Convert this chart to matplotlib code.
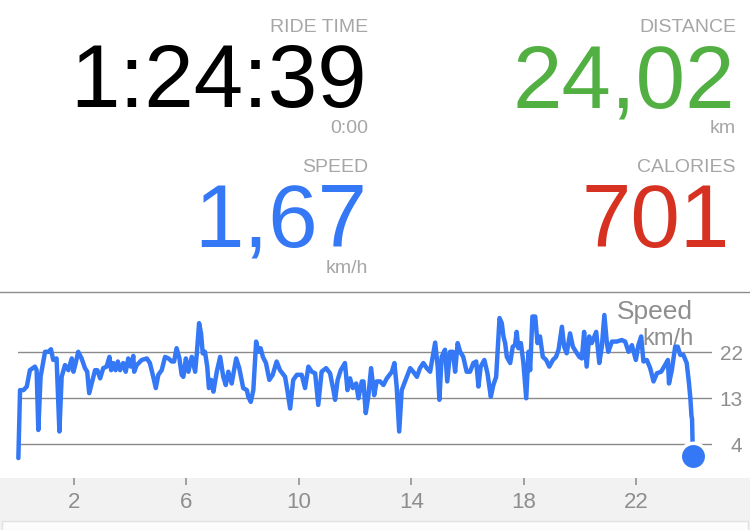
import matplotlib
matplotlib.use("Agg")
import matplotlib.pyplot as plt
from matplotlib.patches import Rectangle
from matplotlib.lines import Line2D

plt.rcParams['font.family'] = ['Liberation Sans', 'DejaVu Sans']

# speed trace: distance (km) vs speed (km/h)
dist_km = [0.02, 0.08, 0.20, 0.32, 0.43, 0.61, 0.67, 0.73, 0.81, 0.97, 1.09, 1.18, 1.26, 1.38,
           1.48, 1.56, 1.68, 1.80, 1.92, 1.98, 2.06, 2.15, 2.27, 2.39, 2.47, 2.54, 2.63, 2.75,
           2.83, 2.93, 3.04, 3.16, 3.26, 3.32, 3.40, 3.48, 3.56, 3.64, 3.75, 3.84, 3.93, 4.02,
           4.11, 4.14, 4.23, 4.41, 4.59, 4.70, 4.82, 4.91, 5.00, 5.12, 5.24, 5.36, 5.48, 5.56,
           5.65, 5.75, 5.83, 5.89, 5.98, 6.07, 6.19, 6.31, 6.37, 6.45, 6.52, 6.58, 6.66, 6.74,
           6.80, 6.88, 6.96, 7.08, 7.20, 7.31, 7.40, 7.49, 7.61, 7.77, 7.88, 8.02, 8.15, 8.20,
           8.29, 8.38, 8.48, 8.56, 8.64, 8.72, 8.83, 8.95, 9.07, 9.21, 9.33, 9.51, 9.59, 9.69,
           9.80, 9.93, 10.10, 10.22, 10.34, 10.46, 10.58, 10.69, 10.81, 10.97, 11.11, 11.23,
           11.29, 11.38, 11.49, 11.64, 11.73, 11.82, 11.92, 12.04, 12.12, 12.24, 12.30, 12.38,
           12.47, 12.57, 12.68, 12.77, 12.89, 13.01, 13.13, 13.31, 13.40, 13.48, 13.57, 13.66,
           13.78, 13.96, 14.07, 14.20, 14.31, 14.43, 14.55, 14.67, 14.76, 14.85, 14.94, 15.00,
           15.08, 15.20, 15.28, 15.38, 15.48, 15.56, 15.65, 15.74, 15.85, 15.97, 16.09, 16.21,
           16.31, 16.39, 16.47, 16.60, 16.71, 16.83, 16.92, 17.02, 17.14, 17.22, 17.28, 17.34,
           17.40, 17.52, 17.61, 17.69, 17.75, 17.81, 17.90, 17.99, 18.09, 18.17, 18.23, 18.31,
           18.41, 18.49, 18.58, 18.68, 18.80, 18.91, 19.04, 19.15, 19.24, 19.36, 19.44, 19.53,
           19.65, 19.75, 19.86, 19.98, 20.07, 20.15, 20.24, 20.33, 20.42, 20.58, 20.69, 20.78,
           20.87, 20.96, 21.01, 21.14, 21.31, 21.49, 21.61, 21.73, 21.85, 21.99, 22.08, 22.18,
           22.26, 22.38, 22.50, 22.62, 22.74, 22.89, 23.03, 23.13, 23.17, 23.27, 23.39, 23.48,
           23.57, 23.68, 23.80, 23.88, 23.93, 23.97, 23.99, 24.01, 24.02]
speed_kmh = [1.3, 14.6, 14.6, 15.3, 18.5, 19.2, 18.5, 6.8, 17.2, 22.1, 22.1, 22.6, 20.5, 20.8,
             6.5, 17.2, 19.5, 18.5, 20.8, 18.2, 19.9, 22.1, 20.8, 18.9, 18.2, 14.0, 15.9, 18.5,
             18.5, 16.9, 18.9, 19.2, 21.1, 18.5, 19.9, 18.5, 20.2, 18.5, 19.9, 18.2, 20.8, 19.2,
             21.3, 18.2, 19.5, 20.5, 20.8, 19.9, 17.2, 15.0, 17.6, 18.5, 21.1, 20.8, 20.2, 20.2,
             22.8, 20.8, 17.6, 17.2, 20.8, 18.2, 21.1, 18.2, 21.8, 27.7, 25.7, 21.8, 22.1, 19.2,
             15.0, 16.6, 14.3, 18.2, 21.1, 17.2, 15.6, 18.2, 15.9, 20.8, 18.9, 15.0, 14.6, 13.3,
             12.3, 14.6, 24.1, 22.1, 22.8, 21.1, 19.9, 16.6, 17.6, 20.2, 18.5, 17.2, 14.6, 11.0,
             16.6, 17.6, 17.6, 15.0, 19.2, 18.2, 17.9, 11.7, 18.2, 18.9, 17.9, 14.6,
             12.7, 16.6, 18.5, 19.9, 14.6, 16.9, 15.0, 15.9, 13.0, 16.3, 16.3, 10.1,
             13.3, 18.9, 13.6, 16.3, 16.3, 15.6, 16.9, 18.2, 19.9, 15.3, 6.5, 14.6,
             16.3, 18.9, 18.2, 17.2, 18.9, 19.9, 18.9, 18.2, 21.1, 23.9, 19.2, 12.7,
             21.1, 22.5, 16.3, 22.1, 22.1, 18.2, 23.8, 22.1, 21.1, 18.2, 18.2, 19.9,
             20.2, 15.3, 19.2, 20.5, 17.9, 13.3, 15.6, 17.2, 28.7, 27.7, 25.1, 23.8,
             21.1, 19.9, 23.1, 23.4, 26.0, 22.8, 23.8, 19.9, 13.0, 22.1, 18.5, 29.0,
             29.0, 23.8, 25.1, 21.1, 20.5, 19.2, 20.5, 21.1, 22.5, 27.0, 23.1, 21.8,
             25.7, 23.1, 22.1, 21.1, 20.8, 26.0, 19.2, 25.1, 23.8, 26.0, 19.9, 23.1,
             29.3, 23.8, 22.1, 24.1, 24.1, 24.4, 24.1, 22.1, 23.4, 20.5, 23.4, 25.1,
             20.2, 20.5, 18.9, 16.3, 17.9, 18.2, 19.5, 20.5, 15.9, 18.5, 23.1, 23.1,
             21.5, 21.5, 19.9, 16.0, 13.0, 9.5, 9.0, 4.5, 1.67]

x_ticks = [2, 6, 10, 14, 18, 22]
y_ticks = [4, 13, 22]

stat_labels = ["RIDE TIME", "DISTANCE", "SPEED", "CALORIES"]
stat_values = ["1:24:39", "24,02", "1,67", "701"]
stat_units = ["0:00", "km", "km/h", None]
stat_colors = ["#000000", "#52B043", "#3478F6", "#D63121"]

W, H = 750, 530
fx = lambda px: px / W
fy = lambda py: 1 - py / H

fig = plt.figure(figsize=(7.5, 5.3), dpi=100)
fig.patch.set_facecolor("white")

# stats block, two columns
right_edge = [368, 736]
for i, (lab, val, unit, col) in enumerate(zip(stat_labels, stat_values, stat_units, stat_colors)):
    xr = right_edge[i % 2]
    y0 = 0 if i < 2 else 140
    fig.text(fx(xr), fy(y0 + 32), lab, ha="right", va="baseline", fontsize=14, color="#a6a6a6")
    xv = xr - 1 if val != "701" else xr - 6
    fig.text(fx(xv), fy(y0 + 107), val, ha="right", va="baseline", fontsize=64, color=col)
    if unit:
        fig.text(fx(xr), fy(y0 + 133), unit, ha="right", va="baseline", fontsize=14, color="#a6a6a6")

# separator line above the chart
fig.add_artist(Line2D([0, 1], [fy(292), fy(292)], transform=fig.transFigure, color="#8c8c8c", lw=1))

# grey band holding the distance labels, and the box below it
fig.patches.append(Rectangle((0, 0), 1, fy(478), transform=fig.transFigure,
                             facecolor="#f2f2f2", edgecolor="none", zorder=-2))
fig.patches.append(Rectangle((fx(2), -0.05), fx(746), fy(521) + 0.05, transform=fig.transFigure,
                             facecolor="#fcfcfc", edgecolor="#e2e2e2", lw=1, zorder=-1))

ax = fig.add_axes([fx(17.8), fy(478), fx(712 - 17.8), (478 - 292) / H])
ax.set_zorder(2)
ax.set_xlim(0, 24.70)
ax.set_ylim(-2.595, 33.80)
for s in ax.spines.values():
    s.set_visible(False)
ax.patch.set_alpha(0)

ax.set_xticks(x_ticks)
ax.set_xticklabels([str(t) for t in x_ticks])
ax.tick_params(axis="x", direction="out", length=5, width=1.3, color="#9a9a9a",
               labelsize=16, labelcolor="#8e8e8e", pad=5)

ax.set_yticks(y_ticks)
ax.yaxis.tick_right()
ax.tick_params(axis="y", length=0, labelsize=15, labelcolor="#8e8e8e", pad=22)
for t in ax.get_yticklabels():
    t.set_horizontalalignment("right")
ax.grid(axis="y", color="#8a8a8a", lw=1)
ax.set_axisbelow(True)

ax.text(24.03, 33.8 - (319 - 292) / 5.11, "Speed", ha="right", va="baseline",
        fontsize=19, color="#8e8e8e", zorder=1)
ax.text(24.03, 33.8 - (345 - 292) / 5.11, "km/h", ha="right", va="baseline",
        fontsize=17, color="#8e8e8e", zorder=1)

ax.plot(dist_km, speed_kmh, color="#3478F6", lw=3.2, solid_joinstyle="round",
        solid_capstyle="round", clip_on=False, zorder=3)
ax.plot(dist_km[-1], speed_kmh[-1], "o", ms=19, color="#3478F6", mec="white", mew=2.5,
        clip_on=False, zorder=4)

fig.savefig("out.png", dpi=100)
